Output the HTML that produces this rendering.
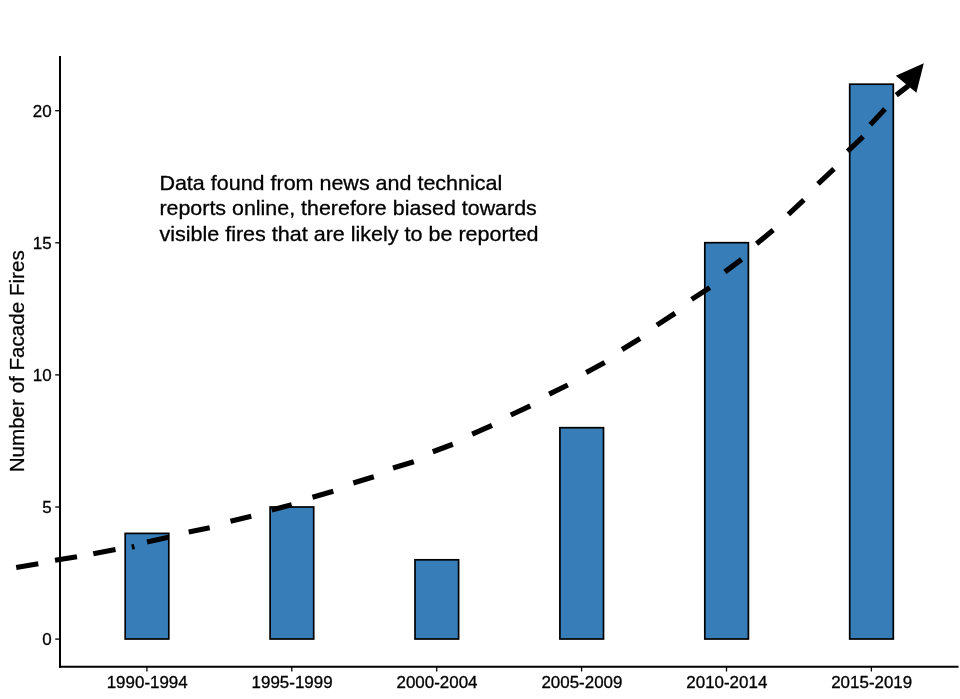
<!DOCTYPE html>
<html lang="en">
<head>
<meta charset="utf-8">
<title>Number of Facade Fires</title>
<style>
html,body{margin:0;padding:0;background:#fff;}
body{width:960px;height:699px;overflow:hidden;font-family:"Liberation Sans",Arial,sans-serif;}
svg{display:block;}
text{font-family:"Liberation Sans",Arial,sans-serif;fill:#000;}
.tick{font-size:16px;stroke:#000;stroke-width:0.3px;}
.note{font-size:20px;stroke:#000;stroke-width:0.3px;}
.ylab{font-size:20px;stroke:#000;stroke-width:0.25px;}
</style>
</head>
<body>
<svg width="960" height="699" viewBox="0 0 960 699">
<rect width="960" height="699" fill="#ffffff"/>
<!-- bars -->
<g fill="#377eb8" stroke="#000" stroke-width="1.7">
<rect x="125.2" y="533.4" width="43.6" height="105.6"/>
<rect x="270.1" y="507.0" width="43.6" height="132.0"/>
<rect x="415.0" y="559.8" width="43.6" height="79.2"/>
<rect x="559.9" y="427.7" width="43.6" height="211.3"/>
<rect x="704.8" y="242.7" width="43.6" height="396.3"/>
<rect x="849.7" y="84.2" width="43.6" height="554.8"/>
</g>
<!-- axes -->
<g stroke="#000" stroke-width="2" fill="none">
<line x1="60" y1="56" x2="60" y2="667.7"/>
<line x1="59.1" y1="666.8" x2="958.5" y2="666.8"/>
</g>
<g stroke="#000" stroke-width="1.3">
<line x1="55.2" y1="639.1" x2="60" y2="639.1"/>
<line x1="55.2" y1="507.0" x2="60" y2="507.0"/>
<line x1="55.2" y1="374.9" x2="60" y2="374.9"/>
<line x1="55.2" y1="242.8" x2="60" y2="242.8"/>
<line x1="55.2" y1="110.7" x2="60" y2="110.7"/>
<line x1="146.9" y1="667" x2="146.9" y2="671.5"/>
<line x1="291.8" y1="667" x2="291.8" y2="671.5"/>
<line x1="436.7" y1="667" x2="436.7" y2="671.5"/>
<line x1="581.6" y1="667" x2="581.6" y2="671.5"/>
<line x1="726.5" y1="667" x2="726.5" y2="671.5"/>
<line x1="871.4" y1="667" x2="871.4" y2="671.5"/>
</g>
<!-- y tick labels -->
<g class="tick" text-anchor="end">
<text transform="translate(51.6,645.3) scale(1.06,1)">0</text>
<text transform="translate(51.6,513.2) scale(1.06,1)">5</text>
<text transform="translate(51.6,381.1) scale(1.06,1)">10</text>
<text transform="translate(51.6,249.0) scale(1.06,1)">15</text>
<text transform="translate(51.6,116.9) scale(1.06,1)">20</text>
</g>
<!-- x tick labels -->
<g class="tick" text-anchor="middle">
<text transform="translate(147.2,687.8) scale(1.06,1)">1990-1994</text>
<text transform="translate(292.1,687.8) scale(1.06,1)">1995-1999</text>
<text transform="translate(437.0,687.8) scale(1.06,1)">2000-2004</text>
<text transform="translate(581.9,687.8) scale(1.06,1)">2005-2009</text>
<text transform="translate(726.8,687.8) scale(1.06,1)">2010-2014</text>
<text transform="translate(871.7,687.8) scale(1.06,1)">2015-2019</text>
</g>
<!-- y axis label -->
<text class="ylab" text-anchor="middle" transform="translate(24,361.3) rotate(-90) scale(1.03,1)">Number of Facade Fires</text>
<!-- annotation -->
<g class="note">
<text transform="translate(159.4,189.8) scale(1.0755,1)">Data found from news and technical</text>
<text transform="translate(159.4,215.3) scale(1.071,1)">reports online, therefore biased towards</text>
<text transform="translate(159.4,240.5) scale(1.077,1)">visible fires that are likely to be reported</text>
</g>
<!-- dashed trend -->
<g stroke="#000" stroke-width="5.2" fill="none" stroke-linecap="butt">
<line x1="16.2" y1="567.5" x2="38.3" y2="563.7"/>
<line x1="55" y1="560.3" x2="77" y2="556.7"/>
<line x1="93.3" y1="553.8" x2="115.5" y2="549.5"/>
<line x1="147" y1="542" x2="168.6" y2="537.2"/>
<line x1="188.7" y1="532" x2="209.7" y2="527.8"/>
<line x1="230.5" y1="521.2" x2="251.3" y2="516.3"/>
<line x1="271.7" y1="510" x2="291.7" y2="504.7"/>
<line x1="312.5" y1="497.2" x2="333.3" y2="491.3"/>
<line x1="353.3" y1="483" x2="373.8" y2="476.7"/>
<line x1="393" y1="468" x2="413.8" y2="461.7"/>
<line x1="432.8" y1="451.7" x2="452.8" y2="444.2"/>
<line x1="472.2" y1="434.2" x2="492" y2="425.3"/>
<line x1="510.8" y1="415" x2="530.3" y2="405.8"/>
<line x1="549.2" y1="394.2" x2="567.8" y2="385"/>
<line x1="586.2" y1="372.5" x2="604.7" y2="362.5"/>
<line x1="622.1" y1="349.4" x2="640.1" y2="338.6"/>
<line x1="656.9" y1="325.1" x2="675.1" y2="313.3"/>
<line x1="691.6" y1="299.4" x2="709.8" y2="287.6"/>
<line x1="724.9" y1="271.9" x2="741.6" y2="259.3"/>
<line x1="756.6" y1="243.8" x2="773.2" y2="230.1"/>
<line x1="788.4" y1="214.4" x2="803.9" y2="199.8"/>
<line x1="818" y1="183.8" x2="834" y2="168.8"/>
<line x1="847.6" y1="151.3" x2="863.1" y2="136.7"/>
<line x1="870.3" y1="124.7" x2="885" y2="109"/>
<line x1="896.3" y1="95.1" x2="908.5" y2="85.6"/>
</g>
<line x1="131.8" y1="547.1" x2="134.4" y2="546.5" stroke="#000" stroke-width="5.2"/>
<polygon points="923.8,63.2 895.8,75.7 916.4,92.7" fill="#000"/>
</svg>
</body>
</html>
